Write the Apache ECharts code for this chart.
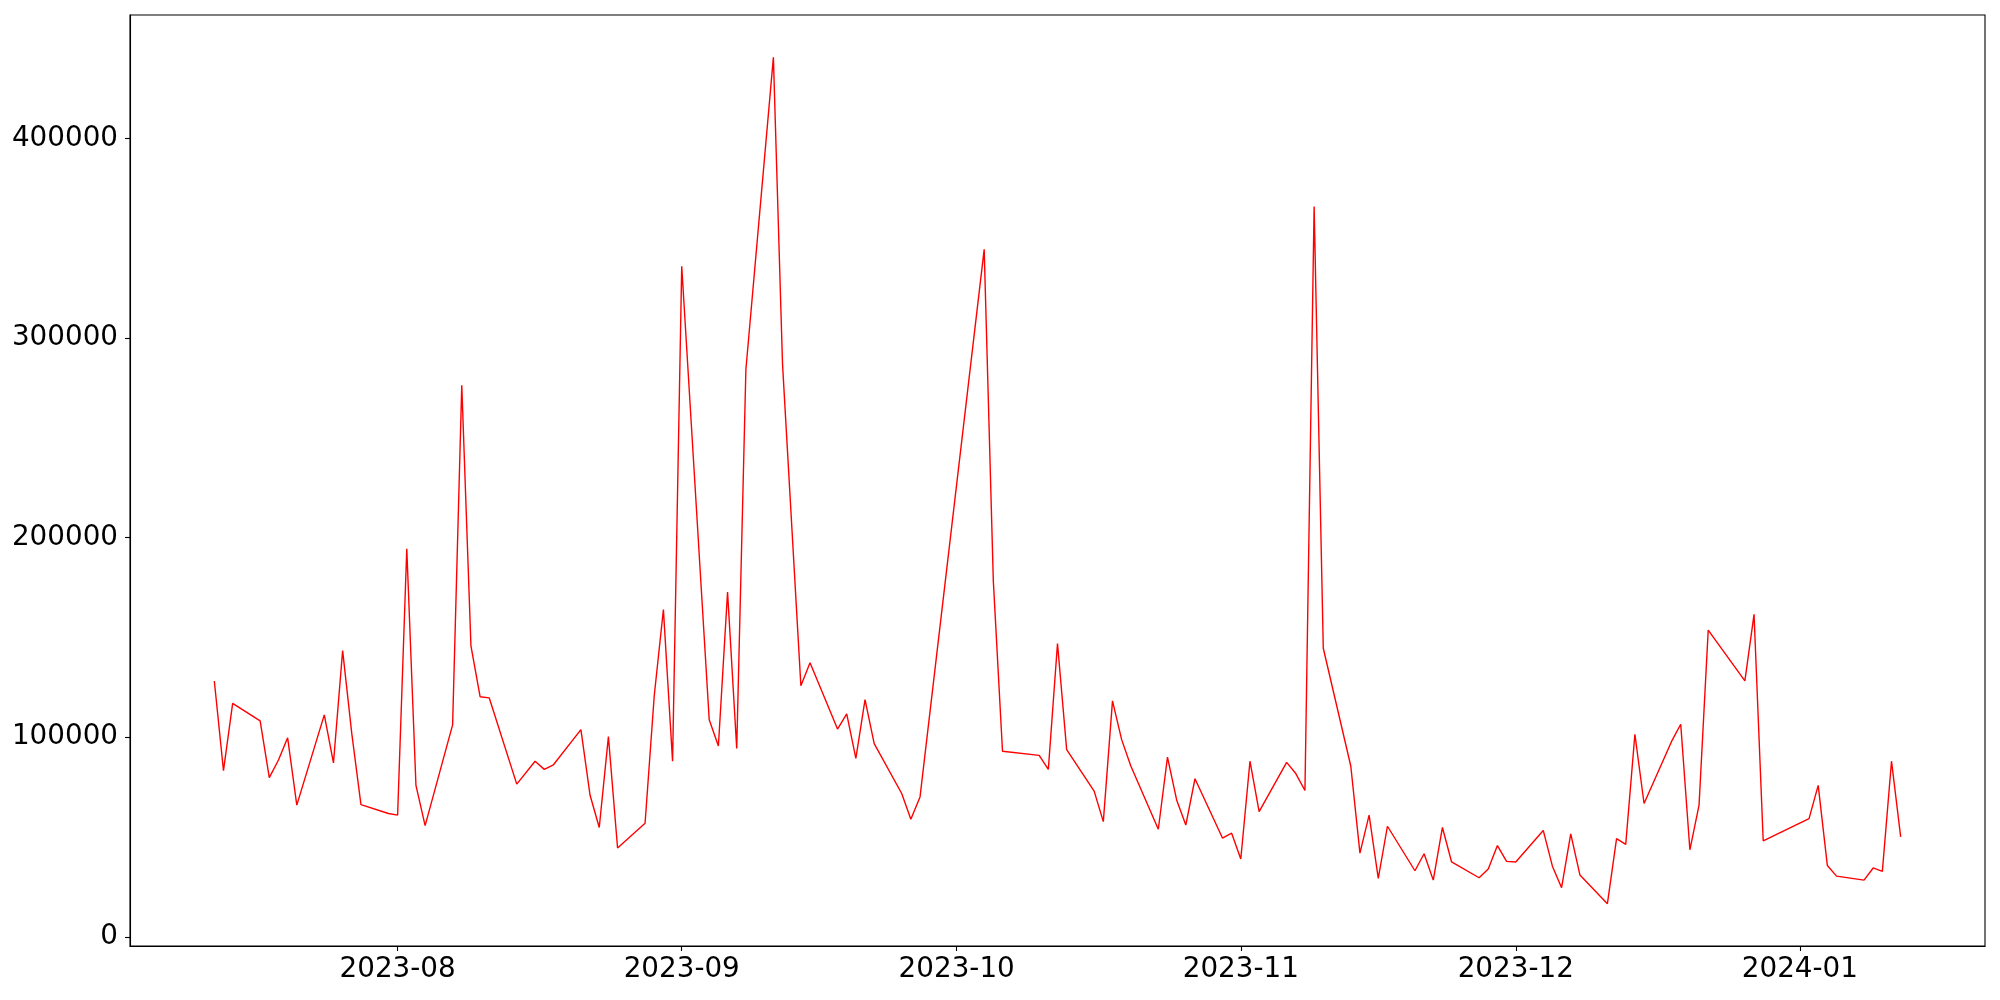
<!DOCTYPE html>
<html>
<head>
<meta charset="utf-8">
<script src="https://cdn.jsdelivr.net/npm/echarts@6/dist/echarts.min.js"></script>
<style>
  html, body { margin: 0; padding: 0; background: #fff; }
  #chart { width: 2000px; height: 1000px; }
</style>
</head>
<body>
<div id="chart"></div>
<script>
// trading days
const dates = [
  '2023-07-12', '2023-07-13', '2023-07-14', '2023-07-17', '2023-07-18', '2023-07-19', '2023-07-20', '2023-07-21',
  '2023-07-24', '2023-07-25', '2023-07-26', '2023-07-27', '2023-07-28', '2023-07-31',
  '2023-08-01', '2023-08-02', '2023-08-03', '2023-08-04', '2023-08-07', '2023-08-08', '2023-08-09', '2023-08-10',
  '2023-08-11', '2023-08-14', '2023-08-16', '2023-08-17', '2023-08-18', '2023-08-21', '2023-08-22', '2023-08-23',
  '2023-08-24', '2023-08-25', '2023-08-28', '2023-08-29', '2023-08-30', '2023-08-31',
  '2023-09-01', '2023-09-04', '2023-09-05', '2023-09-06', '2023-09-07', '2023-09-08', '2023-09-11', '2023-09-12',
  '2023-09-14', '2023-09-15', '2023-09-18', '2023-09-19', '2023-09-20', '2023-09-21', '2023-09-22', '2023-09-25',
  '2023-09-26', '2023-09-27',
  '2023-10-04', '2023-10-05', '2023-10-06', '2023-10-10', '2023-10-11', '2023-10-12', '2023-10-13', '2023-10-16',
  '2023-10-17', '2023-10-18', '2023-10-19', '2023-10-20', '2023-10-23', '2023-10-24', '2023-10-25', '2023-10-26',
  '2023-10-27', '2023-10-30', '2023-10-31',
  '2023-11-01', '2023-11-02', '2023-11-03', '2023-11-06', '2023-11-07', '2023-11-08', '2023-11-09', '2023-11-10',
  '2023-11-13', '2023-11-14', '2023-11-15', '2023-11-16', '2023-11-17', '2023-11-20', '2023-11-21', '2023-11-22',
  '2023-11-23', '2023-11-24', '2023-11-27', '2023-11-28', '2023-11-29', '2023-11-30',
  '2023-12-01', '2023-12-04', '2023-12-05', '2023-12-06', '2023-12-07', '2023-12-08', '2023-12-11', '2023-12-12',
  '2023-12-13', '2023-12-14', '2023-12-15', '2023-12-18', '2023-12-19', '2023-12-20', '2023-12-21', '2023-12-22',
  '2023-12-26', '2023-12-27', '2023-12-28',
  '2024-01-02', '2024-01-03', '2024-01-04', '2024-01-05', '2024-01-08', '2024-01-09', '2024-01-10', '2024-01-11',
  '2024-01-12'
]

const values = [
  128200, 83300, 117000, 108200, 79800, 88600, 99700, 66000,
  111200, 87100, 143400, 101800, 66200, 61800,
  61000, 194500, 75900, 55700, 106200, 276400, 145800, 120300,
  119700, 76500, 88000, 83900, 86200, 103800, 70900, 54800,
  100300, 44500, 56900, 120800, 164000, 88000,
  336000, 108800, 95600, 172800, 94400, 284300, 440700, 286700,
  125800, 137300, 104100, 111700, 89400, 118800, 96800, 71800,
  58900, 70100,
  344500, 178100, 93000, 90900, 83900, 147000, 93800, 73000,
  57700, 118200, 98800, 85600, 53900, 90000, 68600, 56000,
  79200, 49500, 51900,
  39000, 88000, 62700, 87400, 81800, 73300, 365900, 144600,
  85600, 41900, 61000, 29300, 55400, 33100, 41600, 28400,
  54800, 37500, 29600, 34000, 45700, 37800,
  37500, 53300, 35400, 24600, 51600, 31000, 16600, 49200,
  46300, 101500, 66800, 97900, 106500, 43600, 66000, 153700,
  128200, 161600, 48100,
  59200, 75900, 35700, 30400, 28400, 34500, 32800, 88000,
  50100
]

const monthTicks = ['2023-08-01', '2023-09-01', '2023-10-01', '2023-11-01', '2023-12-01', '2024-01-01']
const yTicks = [0, 100000, 200000, 300000, 400000]

const toTime = s => +new Date(s + 'T00:00:00')

// matplotlib style 5% padding on both axes
const t0 = toTime(dates[0])
const t1 = toTime(dates[dates.length - 1])
const tPad = (t1 - t0) * 0.05
const vMin = Math.min(...values)
const vMax = Math.max(...values)
const vPad = (vMax - vMin) * 0.05

const chart = echarts.init(document.getElementById('chart'), null, { renderer: 'canvas' })

const labelFont = {
  fontFamily: 'DejaVu Sans',
  fontSize: 27.8,
  color: '#000'
}

chart.setOption({
  animation: false,
  backgroundColor: '#fff',
  grid: {
    left: 130,
    right: 15,
    top: 15,
    bottom: 54,
    show: true,
    borderColor: '#000',
    borderWidth: 1.1,
    backgroundColor: 'transparent'
  },
  xAxis: {
    type: 'value',
    min: t0 - tPad,
    max: t1 + tPad,
    axisLine: { show: true, onZero: false, lineStyle: { color: '#000', width: 1.1 } },
    axisTick: {
      show: true,
      length: 5,
      lineStyle: { color: '#000', width: 1.1 },
      customValues: monthTicks.map(toTime)
    },
    axisLabel: {
      ...labelFont,
      margin: 10,
      customValues: monthTicks.map(toTime),
      formatter: v => {
        const d = new Date(v)
        return d.getFullYear() + '-' + String(d.getMonth() + 1).padStart(2, '0')
      }
    },
    splitLine: { show: false }
  },
  yAxis: {
    type: 'value',
    min: vMin - vPad,
    max: vMax + vPad,
    axisLine: { show: true, lineStyle: { color: '#000', width: 1.1 } },
    axisTick: {
      show: true,
      length: 5,
      lineStyle: { color: '#000', width: 1.1 },
      customValues: yTicks
    },
    axisLabel: {
      ...labelFont,
      margin: 12,
      customValues: yTicks,
      formatter: v => String(v)
    },
    splitLine: { show: false }
  },
  series: [
    {
      type: 'line',
      data: dates.map((d, i) => [toTime(d), values[i]]),
      showSymbol: false,
      symbol: 'none',
      lineStyle: { color: '#ff0000', width: 1.4 },
      itemStyle: { color: '#ff0000' }
    }
  ]
})
</script>
</body>
</html>
